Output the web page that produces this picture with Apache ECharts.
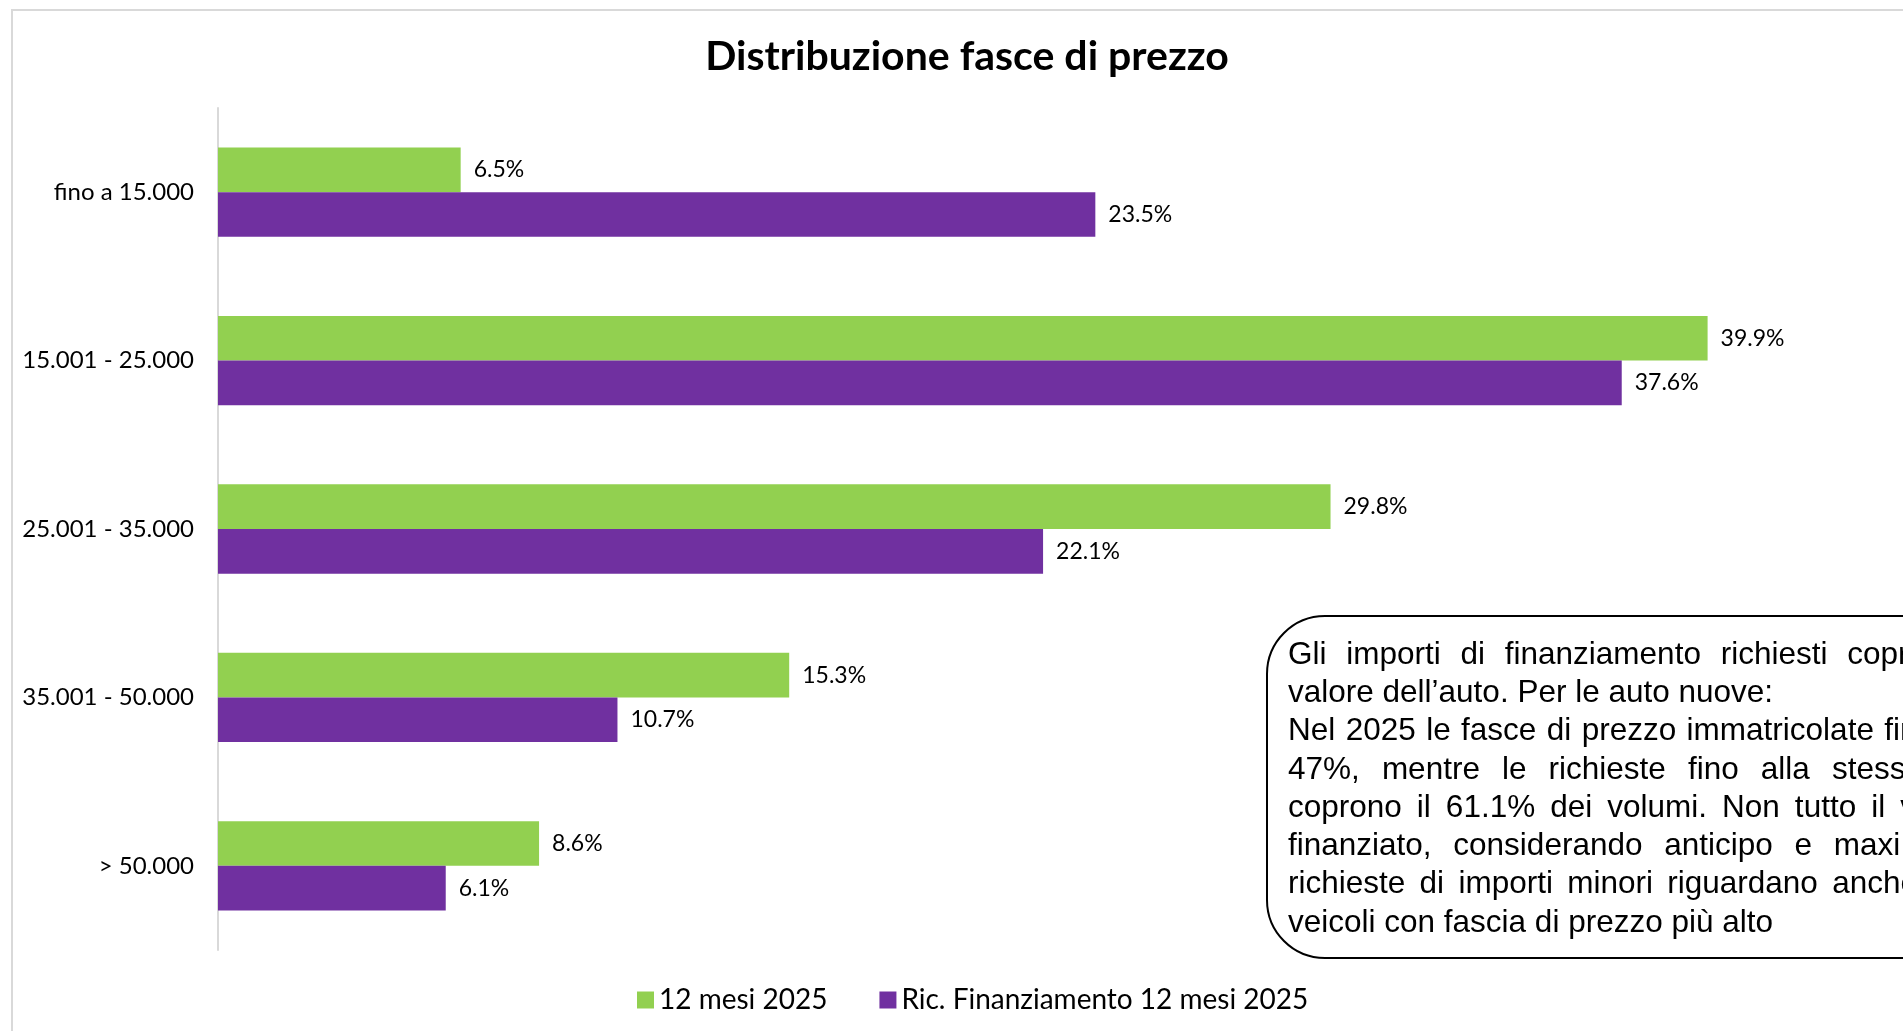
<!DOCTYPE html>
<html>
<head>
<meta charset="utf-8">
<title>Distribuzione fasce di prezzo</title>
<script src="https://cdn.jsdelivr.net/npm/echarts@6/dist/echarts.min.js"></script>
<style>
  html, body { margin: 0; padding: 0; background: #fff; }
  #chart { width: 1903px; height: 1031px; }
</style>
</head>
<body>
<div id="chart"></div>
<script>
const categories = ['fino a 15.000', '15.001 - 25.000', '25.001 - 35.000', '35.001 - 50.000', '> 50.000']
const seriesNames = ['12 mesi 2025', 'Ric. Finanziamento 12 mesi 2025']
const immatricolate = [6.5, 39.9, 29.8, 15.3, 8.6]
const richieste = [23.5, 37.6, 22.1, 10.7, 6.1]

// note box text, one entry per line
const noteLines = [
  'Gli importi di finanziamento richiesti coprono',
  'valore dell\u2019auto. Per le auto nuove:',
  'Nel 2025 le fasce di prezzo immatricolate fino a',
  '47%, mentre le richieste fino alla stessa',
  'coprono il 61.1% dei volumi. Non tutto il valore',
  'finanziato, considerando anticipo e maxi rata:',
  'richieste di importi minori riguardano anche',
  'veicoli con fascia di prezzo pi\u00f9 alto'
]
// justified width of each line in px, 0 = left aligned (last line of a paragraph)
const noteWidths = [673, 0, 675, 635, 698, 697, 630, 0]

const LABEL_FONT = 'Lato'
const NOTE_FONT = '31.5px "Liberation Sans"'

const measure = (() => {
  const ctx = document.createElement('canvas').getContext('2d')
  ctx.font = NOTE_FONT
  return s => ctx.measureText(s).width
})()

function buildNote(x0, y0, lineH) {
  const items = []
  const space = measure(' ')
  noteLines.forEach((line, i) => {
    const words = line.split(' ')
    const widths = words.map(measure)
    let gap = space
    if (noteWidths[i] && words.length > 1) {
      const total = widths.reduce((a, b) => a + b, 0)
      gap = (noteWidths[i] - total) / (words.length - 1)
    }
    let x = x0
    words.forEach((w, k) => {
      items.push({
        type: 'text',
        z: 20,
        x: x,
        y: y0 + i * lineH,
        style: { text: w, font: NOTE_FONT, fill: '#000', align: 'left', verticalAlign: 'middle' }
      })
      x += widths[k] + gap
    })
  })
  return items
}

const chart = echarts.init(document.getElementById('chart'))

const labelOpt = {
  show: true,
  position: 'right',
  distance: 13,
  fontFamily: LABEL_FONT,
  fontSize: 23,
  color: '#000',
  formatter: p => p.value.toFixed(1) + '%'
}

const option = {
  backgroundColor: '#fff',
  animation: false,
  title: {
    text: 'Distribuzione fasce di prezzo',
    left: 962,
    textAlign: 'center',
    top: 31,
    textStyle: { fontFamily: LABEL_FONT, fontWeight: 'bold', fontSize: 41, color: '#000' }
  },
  legend: {
    data: seriesNames,
    left: 632,
    top: 981,
    icon: 'rect',
    itemWidth: 17,
    itemHeight: 17,
    itemGap: 52,
    textStyle: { fontFamily: LABEL_FONT, fontSize: 28, color: '#000' }
  },
  grid: { left: 218, top: 108, width: 1680, height: 842 },
  xAxis: {
    type: 'value',
    min: 0,
    max: 45,
    show: false
  },
  yAxis: {
    type: 'category',
    data: categories,
    inverse: true,
    axisLine: { lineStyle: { color: '#d9d9d9', width: 2 } },
    axisTick: { show: false },
    axisLabel: { margin: 24, fontFamily: LABEL_FONT, fontSize: 24, color: '#000' }
  },
  series: [
    {
      name: seriesNames[0],
      type: 'bar',
      data: immatricolate,
      itemStyle: { color: '#92d050' },
      barGap: '0%',
      barCategoryGap: '47%',
      label: labelOpt
    },
    {
      name: seriesNames[1],
      type: 'bar',
      data: richieste,
      itemStyle: { color: '#7030a0' },
      label: labelOpt
    }
  ],
  graphic: [
    {
      type: 'rect',
      shape: { x: 12, y: 10, width: 2000, height: 1200 },
      style: { fill: 'none', stroke: '#d9d9d9', lineWidth: 2 },
      silent: true,
      z: 0
    },
    {
      type: 'rect',
      shape: { x: 1267, y: 616, width: 760, height: 342, r: 58 },
      style: { fill: '#fff', stroke: '#000', lineWidth: 2 },
      z: 10
    },
    {
      type: 'group',
      children: buildNote(1288, 655, 38.3)
    }
  ]
}

chart.setOption(option)
</script>
</body>
</html>
